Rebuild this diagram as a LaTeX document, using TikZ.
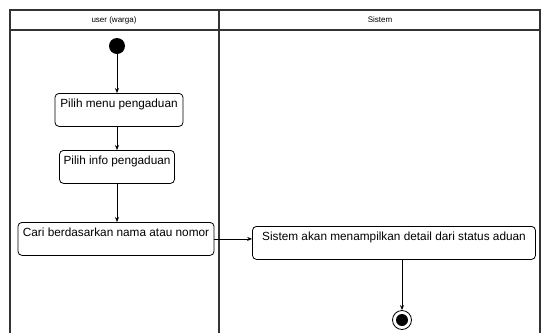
\documentclass[tikz,border=0pt]{standalone}
\usepackage{fontspec}
\setmainfont{Liberation Sans}
\usetikzlibrary{arrows.meta}
\tikzset{
  act/.style={rectangle,draw,rounded corners=4pt,line width=0.8pt,text height=11pt,text depth=16pt,inner sep=3pt,font=\fontsize{11.8}{13}\selectfont},
  flow/.style={draw,line width=0.7pt,-{Stealth[length=5pt,width=4pt]}},
  lane/.style={draw,line width=1.2pt,black!80}
}

\begin{document}
\begin{tikzpicture}[x=1pt,y=-1pt]
    \useasboundingbox (0,0) rectangle (542,333);
    % swimlanes
    \draw[lane] (10,333) -- (10,10) -- (540,10) -- (540,333);
    \draw[lane] (10,30) -- (540,30);
    \draw[lane] (219,10) -- (219,333);
    \node (h1) at (114,20) [font=\fontsize{8}{9}\selectfont] {user (warga)};
    \node (h2) at (380,20) [font=\fontsize{8}{9}\selectfont] {Sistem};
    % actions
    \node (s0) at (117,46) [circle,fill=black,minimum size=16pt,inner sep=0pt] {};
    \node (a1) at (119,93) [act,anchor=north,minimum width=128pt] {Pilih menu pengaduan};
    \node (a2) at (117,150) [act,anchor=north,minimum width=115pt] {Pilih info pengaduan};
    \node (a3) at (116,222) [act,anchor=north,minimum width=196pt] {Cari berdasarkan nama atau nomor};
    \node (a4) at (394,226) [act,anchor=north,minimum width=283pt] {Sistem akan menampilkan detail dari status aduan};
    \node (e0) at (402,320) [circle,draw,line width=0.8pt,minimum size=19pt,inner sep=0pt] {};
    \node (e1) at (e0) [circle,fill=black,minimum size=12pt,inner sep=0pt] {};
    \draw[flow] (s0) -- (s0 |- a1.north);
    \draw[flow] (a1.south -| s0) -- (s0 |- a2.north);
    \draw[flow] (a2.south -| s0) -- (s0 |- a3.north);
    \draw[flow] (a3.east) -- (a4.west |- a3.east);
    \draw[flow] (a4.south -| e0) -- (e0);
  \end{tikzpicture}
\end{document}
